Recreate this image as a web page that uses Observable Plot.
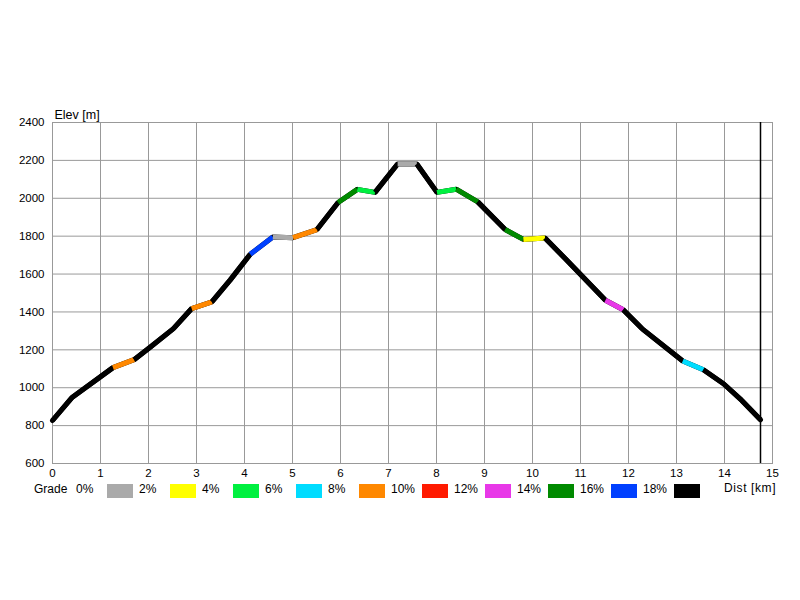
<!DOCTYPE html>
<html><head><meta charset="utf-8">
<script src="https://cdn.jsdelivr.net/npm/d3@7"></script>
<script src="https://cdn.jsdelivr.net/npm/@observablehq/plot@0.6"></script>
<style>
body{margin:0;background:#fff;font-family:"Liberation Sans",Arial,sans-serif;}
#wrap{position:relative;width:800px;height:600px;overflow:hidden;}
#legend{position:absolute;left:0;top:484px;width:800px;height:16px;font-size:12px;color:#000;}
#legend span{position:absolute;top:-2px;line-height:14px;white-space:nowrap;}
#legend .sw{top:0;width:26px;height:14px;}
#legend .dist{letter-spacing:0.6px;top:-3px;}
</style></head><body>
<div id="wrap"><div id="chart"></div><div id="legend"></div></div>
<script>
// Profile points (distance km, elevation m)
const dist = [0, 0.40, 1.26, 1.70, 2.04, 2.52, 2.90, 3.32, 3.70, 4.12, 4.59, 5.01, 5.51, 5.95, 6.35, 6.72, 7.19, 7.59, 8.01, 8.41, 8.86, 9.43, 9.81, 10.26, 10.68, 11.52, 11.89, 12.28, 13.13, 13.56, 13.98, 14.36, 14.75];
const elev = [827, 947, 1106, 1148, 1215, 1312, 1418, 1453, 1568, 1705, 1795, 1792, 1835, 1978, 2047, 2031, 2181, 2181, 2031, 2048, 1981, 1835, 1783, 1790, 1682, 1462, 1412, 1312, 1141, 1095, 1021, 933, 831];
const segGrade = [9, 9, 4, 9, 9, 9, 4, 9, 9, 8, 0, 4, 9, 7, 2, 9, 0, 9, 2, 7, 9, 7, 1, 9, 9, 6, 9, 9, 3, 9, 9, 9];
const gradeLabels = ["0%", "2%", "4%", "6%", "8%", "10%", "12%", "14%", "16%", "18%"];
const gradeBands = ["0-2%", "2-4%", "4-6%", "6-8%", "8-10%", "10-12%", "12-14%", "14-16%", "16-18%", ">18%"];
const gradeColors = ["#aaaaaa", "#ffff00", "#00f040", "#00dcff", "#ff8800", "#ff1a00", "#e838e8", "#008a00", "#0040ff", "#000000"];
const xTicks = [0, 1, 2, 3, 4, 5, 6, 7, 8, 9, 10, 11, 12, 13, 14, 15];
const yTicks = [600, 800, 1000, 1200, 1400, 1600, 1800, 2000, 2200, 2400];
const routeEnd = [dist[dist.length - 1]];

const segs = segGrade.map((g, i) => ({x1: dist[i], y1: elev[i], x2: dist[i + 1], y2: elev[i + 1], band: gradeBands[g]}));
const pts = dist.map((d, i) => ({d, e: elev[i]}));

const chart = Plot.plot({
  width: 800, height: 480,
  marginLeft: 52, marginRight: 28, marginTop: 122, marginBottom: 17,
  style: {fontFamily: '"Liberation Sans", Arial, sans-serif', fontSize: "12px", color: "#000", background: "#fff"},
  x: {domain: [0, 15]},
  y: {domain: [600, 2400]},
  color: {type: "ordinal", domain: gradeBands, range: gradeColors},
  marks: [
    Plot.gridX(xTicks, {stroke: "#999", strokeOpacity: 1}),
    Plot.gridY(yTicks, {stroke: "#999", strokeOpacity: 1}),
    Plot.frame({stroke: "#999"}),
    Plot.axisX(xTicks, {tickSize: 0, tickPadding: 5, fontSize: 11.5, label: null, tickFormat: d => String(d)}),
    Plot.axisY(yTicks, {tickSize: 0, tickPadding: 8, fontSize: 11.5, label: null, tickFormat: d => String(d)}),
    Plot.ruleX(routeEnd, {stroke: "#000", strokeWidth: 1.5}),
    Plot.line(pts, {x: "d", y: "e", stroke: "#000", strokeWidth: 5, strokeLinejoin: "round", strokeLinecap: "round"}),
    Plot.link(segs, {x1: "x1", y1: "y1", x2: "x2", y2: "y2", stroke: "band", strokeWidth: 5, strokeLinecap: "butt"}),
    Plot.text(["Elev [m]"], {frameAnchor: "top-left", textAnchor: "start", lineAnchor: "bottom", dx: 2, dy: -4, fontSize: 12.5, fill: "#000"})
  ]
});
document.getElementById("chart").append(chart);

const lg = document.getElementById("legend");
function add(cls, left, text, bg) {
  const s = document.createElement("span");
  if (cls) s.className = cls;
  s.style.left = left + "px";
  if (text) s.textContent = text;
  if (bg) s.style.background = bg;
  lg.append(s);
}
add(null, 34, "Grade");
gradeLabels.forEach((l, i) => {
  add(null, 76 + 63 * i, l);
  add("sw", 107 + 63 * i, null, gradeColors[i]);
});
add("dist", 724, "Dist [km]");
</script>
</body></html>
